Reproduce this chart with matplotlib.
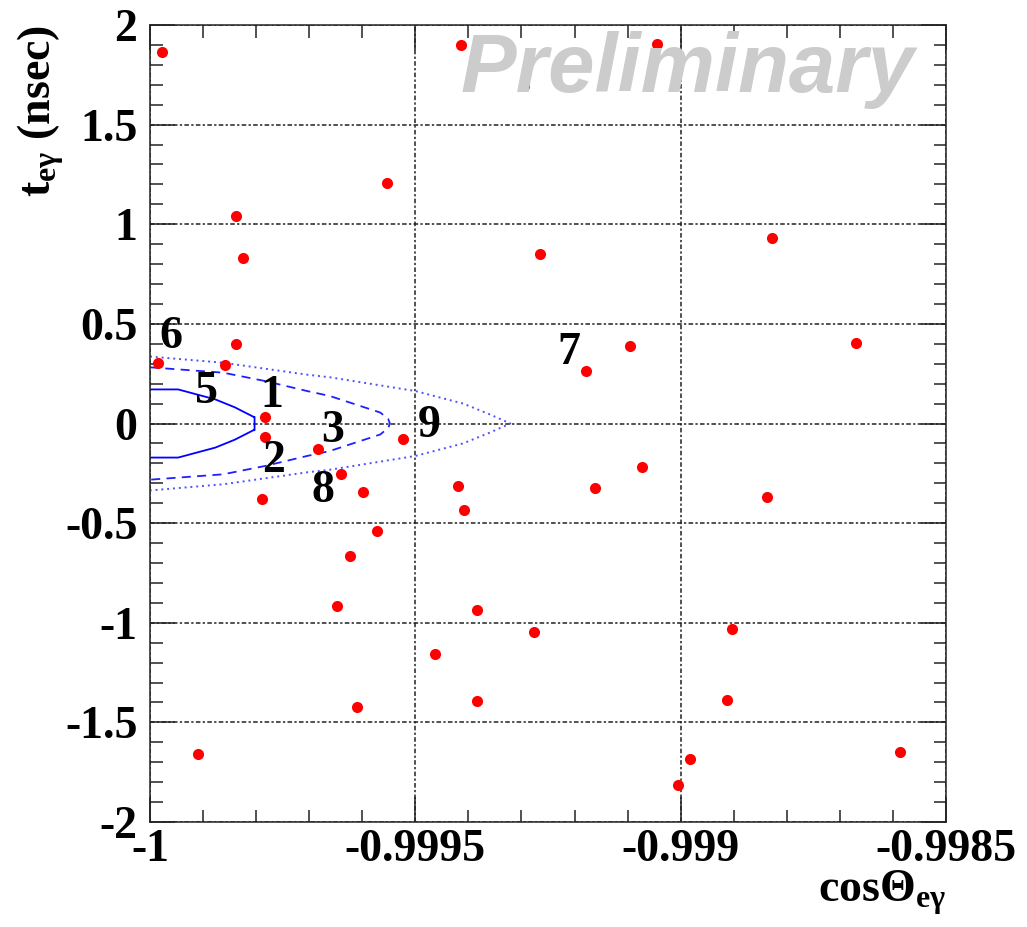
import matplotlib.pyplot as plt
from matplotlib.ticker import MultipleLocator

# Events: cos(theta_eg) and t_eg (nsec)
cos_eg = [-0.999978, -0.999985, -0.999910, -0.999838, -0.999824, -0.999837, -0.999859,
          -0.999783, -0.999783, -0.999789, -0.999684, -0.999641, -0.999599, -0.999573,
          -0.999623, -0.999648, -0.999609, -0.999554, -0.999524, -0.999414, -0.999296,
          -0.999420, -0.999408, -0.999384, -0.999384, -0.999462, -0.999265, -0.999276,
          -0.999178, -0.999161, -0.999095, -0.999073, -0.999044, -0.998904, -0.998912,
          -0.998982, -0.999005, -0.998827, -0.998837, -0.998670, -0.998587]
t_eg = [1.863, 0.306, -1.658, 1.042, 0.833, 0.397, 0.293,
        0.031, -0.070, -0.381, -0.130, -0.254, -0.342, -0.540,
        -0.663, -0.914, -1.424, 1.209, -0.080, 1.898, 1.692,
        -0.312, -0.436, -0.936, -1.391, -1.158, 0.850, -1.048,
        0.263, -0.326, 0.388, -0.217, 1.903, -1.033, -1.387,
        -1.685, -1.813, 0.930, -0.371, 0.402, -1.650]

# Contours (upper half, mirrored around t = 0)
solid_x = [-1.0, -0.999947, -0.999877, -0.999840, -0.999805, -0.999803]
solid_h = [0.171, 0.171, 0.121, 0.081, 0.0335, 0.0335]
dash_x = [-1.0, -0.999862, -0.999783, -0.999704, -0.999661, -0.999629, -0.999566, -0.999551, -0.999548]
dash_h = [0.282, 0.255, 0.213, 0.163, 0.138, 0.110, 0.055, 0.022, 0.0]
dot_x = [-1.0, -0.999862, -0.999704, -0.999661, -0.9995, -0.999453, -0.999410, -0.999359, -0.999321]
dot_h = [0.336, 0.305, 0.245, 0.232, 0.163, 0.130, 0.100, 0.045, 0.0]

# Event labels
lab_text = ['6', '5', '1', '2', '3', '8', '9', '7']
lab_x = [-0.999960, -0.999893, -0.999771, -0.999768, -0.999655, -0.999675, -0.999473, -0.999210]
lab_y = [0.378, 0.101, 0.084, -0.242, -0.092, -0.393, -0.067, 0.301]

xticks = [-1.0, -0.9995, -0.999, -0.9985]
xtick_labels = ['-1', '-0.9995', '-0.999', '-0.9985']
yticks = [-2, -1.5, -1, -0.5, 0, 0.5, 1, 1.5, 2]
ytick_labels = ['-2', '-1.5', '-1', '-0.5', '0', '0.5', '1', '1.5', '2']

plt.rcParams['mathtext.fontset'] = 'custom'
plt.rcParams['mathtext.rm'] = 'Liberation Serif:bold'
plt.rcParams['mathtext.bf'] = 'Liberation Serif:bold'
plt.rcParams['mathtext.it'] = 'Liberation Serif:bold:italic'

fig = plt.figure(figsize=(10.27, 9.27), dpi=100)
ax = fig.add_axes([150 / 1027, (927 - 822) / 927, 796 / 1027, 797 / 927])


def mirror(xs, hs):
    return list(xs) + list(xs[::-1]), list(hs) + [-h for h in hs[::-1]]


sx, sy = mirror(solid_x, solid_h)
ax.plot(sx, sy, color='#0000ff', lw=1.3)
dx, dy = mirror(dash_x, dash_h)
ax.plot(dx, dy, color='#2020ff', lw=1.3, linestyle=(0, (5, 3.5)))
ox, oy = mirror(dot_x, dot_h)
ax.plot(ox, oy, color='#5050ff', lw=1.4, linestyle=(0, (1, 2)))

ax.plot(cos_eg, t_eg, 'o', color='red', markersize=8, markeredgewidth=0, zorder=3)

for s, x, y in zip(lab_text, lab_x, lab_y):
    ax.text(x, y, s, ha='center', va='baseline', fontsize=33,
            family='Liberation Serif', fontweight='bold', zorder=4)

ax.text(0.675, 0.916, 'Preliminary', transform=ax.transAxes, ha='center', va='baseline',
        fontsize=60, family='Liberation Sans', fontweight='bold', style='italic',
        color='#cccccc', zorder=5)

ax.set_xlim(-1.0, -0.9985)
ax.set_ylim(-2, 2)
ax.set_xticks(xticks, xtick_labels)
ax.set_yticks(yticks, ytick_labels)
ax.xaxis.set_minor_locator(MultipleLocator(0.0001))
ax.yaxis.set_minor_locator(MultipleLocator(0.1))
ax.tick_params(which='both', direction='in', top=True, right=True, width=1.1, color='#222222')
ax.tick_params(which='major', length=18)
ax.tick_params(which='minor', length=9)
ax.tick_params(axis='x', pad=5)
ax.tick_params(axis='y', pad=9)
for lab in ax.get_xticklabels() + ax.get_yticklabels():
    lab.set_family('Liberation Serif')
    lab.set_fontweight('bold')
    lab.set_fontsize(33)

for sp in ax.spines.values():
    sp.set_linewidth(1.1)
    sp.set_color('#222222')

ax.grid(True, which='major', color='#222222', linestyle=(0, (3, 1.5, 1.5, 1.5)), linewidth=1.1)

ax.set_xlabel(r'cos$\Theta_{\mathrm{e\gamma}}$', fontsize=33, family='Liberation Serif',
              fontweight='bold', loc='right')
ax.xaxis.set_label_coords(1.0, -0.058)
ax.set_ylabel(r'$\mathrm{t}_{\mathrm{e\gamma}}$ (nsec)', fontsize=33, family='Liberation Serif',
              fontweight='bold', loc='top')
ax.yaxis.set_label_coords(-0.105, 1.0)

fig.savefig('out.png', dpi=100)
